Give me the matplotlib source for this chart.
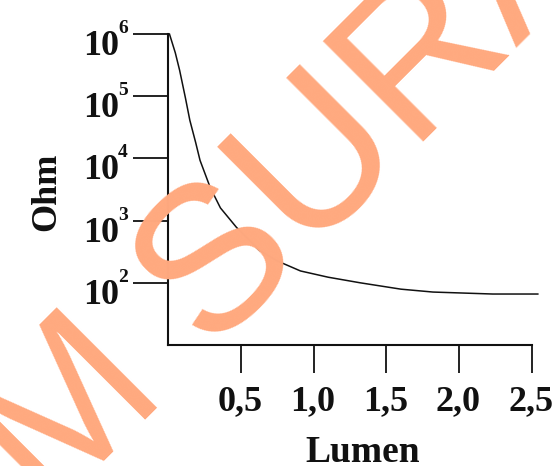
import matplotlib
matplotlib.use("Agg")
import matplotlib.pyplot as plt
from matplotlib.ticker import NullLocator

# ─── Data ───────────────────────────────────────────────────────
lumen = [0.01, 0.05, 0.08, 0.12, 0.15, 0.19, 0.22, 0.29, 0.36, 0.47,
         0.63, 0.75, 0.91, 1.10, 1.32, 1.60, 1.82, 2.23, 2.54]
ohm = [1.0e6, 5.0e5, 2.6e5, 9.3e4, 4.1e4, 1.8e4, 9.3e3, 3.4e3, 1.6e3, 780,
       330, 225, 155, 123, 100, 79, 71, 66, 66]

x_ticks = [0.5, 1.0, 1.5, 2.0, 2.5]
x_tick_labels = ["0,5", "1,0", "1,5", "2,0", "2,5"]
y_ticks = [1e2, 1e3, 1e4, 1e5, 1e6]
y_exponents = ["2", "3", "4", "5", "6"]
watermark = "UM SURABAYA"

SERIF = ["Liberation Serif", "DejaVu Serif"]
INK = "#111111"

W, H = 553, 466
fig = plt.figure(figsize=(W / 100, H / 100), dpi=100)
fig.patch.set_facecolor("white")

# axes box: left spine at x=168 px, bottom spine at y=345 px
ax = fig.add_axes([168 / W, 1 - 345 / H, 364 / W, 311 / H])
ax.set_yscale("log")
ax.set_xlim(0, 2.5)
ax.set_ylim(10, 1e6)

ax.plot(lumen, ohm, color=INK, linewidth=1.1, clip_on=False)

for side in ["top", "right"]:
    ax.spines[side].set_visible(False)
for side in ["left", "bottom"]:
    ax.spines[side].set_linewidth(1.5)
    ax.spines[side].set_color(INK)

ax.set_xticks(x_ticks)
ax.set_yticks(y_ticks)
ax.yaxis.set_minor_locator(NullLocator())
ax.set_xticklabels([])
ax.set_yticklabels([])
ax.tick_params(axis="y", direction="out", length=25, width=1.3, colors=INK)
ax.tick_params(axis="x", direction="out", length=20, width=1.3, colors=INK)

# tick labels drawn by hand so the exponent sits like the scanned figure
for xv, lab in zip(x_ticks, x_tick_labels):
    ax.annotate(lab, xy=(xv, 0), xycoords=ax.get_xaxis_transform(),
                xytext=(-1, -65), textcoords="offset pixels",
                ha="center", va="baseline", fontsize=26,
                fontweight="bold", family=SERIF, color=INK)

for yv, ex in zip(y_ticks, y_exponents):
    ax.annotate("10", xy=(0, yv), xycoords=ax.get_yaxis_transform(),
                xytext=(-49, -21), textcoords="offset pixels",
                ha="right", va="baseline", fontsize=26,
                fontweight="bold", family=SERIF, color=INK)
    ax.annotate(ex, xy=(0, yv), xycoords=ax.get_yaxis_transform(),
                xytext=(-50, 1), textcoords="offset pixels",
                ha="left", va="baseline", fontsize=14,
                fontweight="bold", family=SERIF, color=INK)

fig.text(363 / W, 1 - 462 / H, "Lumen", fontsize=27, fontweight="bold",
         family=SERIF, color=INK, ha="center", va="baseline")
fig.text(55 / W, 1 - 192 / H, "Ohm", fontsize=26, fontweight="bold",
         family=SERIF, color=INK, rotation=90, rotation_mode="anchor",
         ha="center", va="baseline")

# watermark
fig.text(-56 / W, 1 - 622 / H, watermark, fontsize=148,
         family="Liberation Sans", color="#FFA97F", rotation=45,
         rotation_mode="anchor", ha="left", va="baseline", zorder=10)

fig.savefig("out.png", dpi=100, facecolor="white")
